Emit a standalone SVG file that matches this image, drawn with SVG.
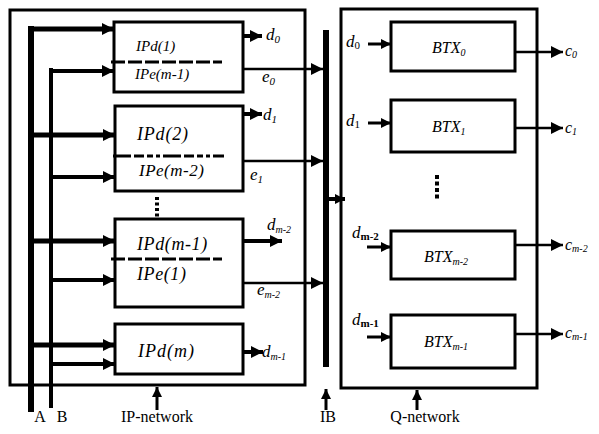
<svg xmlns="http://www.w3.org/2000/svg" width="599" height="434" viewBox="0 0 599 434">
<style>
.frame{fill:none;stroke:#000;stroke-width:3}
.box{fill:#fff;stroke:#000;stroke-width:3}
.t{font-style:italic;fill:#000}
.n{fill:#000}
.ln{stroke:#000;fill:none}
.dash{stroke:#000;stroke-width:3;stroke-dasharray:14 3}
</style>
<defs>
<marker id="ah" markerUnits="userSpaceOnUse" markerWidth="12" markerHeight="12" refX="12" refY="6" orient="auto">
<path d="M0,0 L12,6 L0,12 z" fill="#000"/>
</marker>
<marker id="ahs" markerUnits="userSpaceOnUse" markerWidth="10" markerHeight="10" refX="10" refY="5" orient="auto">
<path d="M0,0 L10,5 L0,10 z" fill="#000"/>
</marker>
</defs>
<rect width="599" height="434" fill="#fff"/>

<g id="ip-network">
<rect class="frame" x="10" y="10" width="295" height="375"/>
</g>
<g id="q-network">
<rect class="frame" x="341" y="9" width="196" height="379"/>
</g>

<g id="connectors">
<line class="ln" x1="31" y1="26" x2="31" y2="412" stroke-width="6"/>
<line class="ln" x1="51" y1="68" x2="51" y2="408" stroke-width="4"/>
<g stroke-width="5" class="ln" marker-end="url(#ah)">
<line x1="28" y1="29" x2="114" y2="29"/>
<line x1="31" y1="135" x2="115" y2="135"/>
<line x1="31" y1="241" x2="115" y2="241"/>
<line x1="31" y1="345" x2="115" y2="345"/>
</g>
<g stroke-width="4" class="ln" marker-end="url(#ah)">
<line x1="49" y1="71" x2="114" y2="71"/>
<line x1="51" y1="177" x2="115" y2="177"/>
<line x1="51" y1="280" x2="115" y2="280"/>
<line x1="51" y1="364" x2="115" y2="364"/>
</g>
<g stroke-width="4" class="ln" marker-end="url(#ah)">
<line x1="243" y1="36" x2="262" y2="36"/>
<line x1="237" y1="114" x2="262" y2="114"/>
<line x1="243" y1="241" x2="282" y2="241"/>
<line x1="243" y1="352" x2="263" y2="352"/>
</g>
<g stroke-width="2.5" class="ln" marker-end="url(#ah)">
<line x1="243" y1="69" x2="323" y2="69"/>
<line x1="243" y1="161" x2="323" y2="161"/>
<line x1="243" y1="283" x2="323" y2="283"/>
</g>
<line class="ln" x1="326" y1="30" x2="326" y2="367" stroke-width="6"/>
<line class="ln" x1="329" y1="199" x2="345" y2="199" stroke-width="4" marker-end="url(#ahs)"/>
<g stroke-width="3" class="ln" marker-end="url(#ahs)">
<line x1="368" y1="44" x2="391" y2="44"/>
<line x1="368" y1="123" x2="391" y2="123"/>
<line x1="367" y1="247" x2="391" y2="247"/>
<line x1="367" y1="337" x2="391" y2="337"/>
</g>
<g stroke-width="2.5" class="ln" marker-end="url(#ah)">
<line x1="515" y1="52" x2="563" y2="52"/>
<line x1="515" y1="128" x2="563" y2="128"/>
<line x1="515" y1="245" x2="563" y2="245"/>
<line x1="515" y1="334" x2="563" y2="334"/>
</g>
<g stroke-width="3" class="ln" marker-end="url(#ahs)">
<line x1="157" y1="410" x2="157" y2="387"/>
<line x1="326" y1="410" x2="326" y2="389"/>
<line x1="417" y1="410" x2="417" y2="390"/>
</g>
<line class="ln" x1="157" y1="197" x2="157" y2="217" stroke-width="4" stroke-dasharray="3 2.5"/>
<line class="ln" x1="437" y1="175" x2="437" y2="199" stroke-width="4" stroke-dasharray="4 2.5"/>
</g>

<g font-family="Liberation Serif, DejaVu Serif, Times New Roman, serif">
<g id="ipd1">
<rect class="box" x="114" y="22" width="129" height="70"/>
<line class="dash" x1="111" y1="62" x2="222" y2="62"/>
<text class="t" x="136" y="51" font-size="15">IPd(1)</text>
<text class="t" x="135" y="79" font-size="15">IPe(m-1)</text>
</g>
<g id="ipd2">
<rect class="box" x="115" y="106" width="128" height="85"/>
<line class="ln" x1="113" y1="156" x2="224" y2="156" stroke-width="3" stroke-dasharray="18 3 10 3 6 3 4 3"/>
<text class="t" x="137" y="140" font-size="18" letter-spacing="0.8">IPd(2)</text>
<text class="t" x="139" y="176" font-size="17" letter-spacing="0.5">IPe(m-2)</text>
</g>
<g id="ipd3">
<rect class="box" x="115" y="219" width="128" height="88"/>
<line class="dash" x1="111" y1="259" x2="222" y2="259"/>
<text class="t" x="137" y="250" font-size="18" letter-spacing="0.6">IPd(m-1)</text>
<text class="t" x="137" y="280" font-size="18" letter-spacing="0.6">IPe(1)</text>
</g>
<g id="ipd4">
<rect class="box" x="115" y="324" width="128" height="50"/>
<text class="t" x="138" y="357" font-size="18" letter-spacing="1">IPd(m)</text>
</g>

<g id="btx0">
<rect class="box" x="391" y="22" width="124" height="49"/>
<text class="t" x="432" y="53" font-size="16">BTX<tspan font-size="10" dy="3">0</tspan></text>
</g>
<g id="btx1">
<rect class="box" x="391" y="100" width="124" height="52"/>
<text class="t" x="432" y="132" font-size="16">BTX<tspan font-size="10" dy="3">1</tspan></text>
</g>
<g id="btxm2">
<rect class="box" x="391" y="231" width="124" height="48"/>
<text class="t" x="424" y="262" font-size="16">BTX<tspan font-size="10" dy="3">m-2</tspan></text>
</g>
<g id="btxm1">
<rect class="box" x="391" y="315" width="124" height="53"/>
<text class="t" x="424" y="347" font-size="16">BTX<tspan font-size="10" dy="3">m-1</tspan></text>
</g>

<g id="labels">
<text class="t" x="266" y="40" font-size="17">d<tspan font-size="11" dy="3">0</tspan></text>
<text class="t" x="262" y="82" font-size="17">e<tspan font-size="11" dy="3">0</tspan></text>
<text class="t" x="263" y="120" font-size="17">d<tspan font-size="11" dy="3">1</tspan></text>
<text class="t" x="250" y="180" font-size="17">e<tspan font-size="11" dy="3">1</tspan></text>
<text class="t" x="267" y="230" font-size="17">d<tspan font-size="10" dy="3">m-2</tspan></text>
<text class="t" x="257" y="295" font-size="17">e<tspan font-size="10" dy="3">m-2</tspan></text>
<text class="t" x="262" y="357" font-size="17">d<tspan font-size="10" dy="3">m-1</tspan></text>

<text class="t" x="346" y="47" font-size="17">d<tspan font-style="normal" font-size="11" dy="2">0</tspan></text>
<text class="t" x="346" y="126" font-size="17">d<tspan font-style="normal" font-size="11" dy="2">1</tspan></text>
<text class="t" x="352" y="238" font-size="17">d<tspan font-style="normal" font-weight="bold" font-size="11" dy="2">m-2</tspan></text>
<text class="t" x="352" y="325" font-size="17">d<tspan font-style="normal" font-weight="bold" font-size="11" dy="2">m-1</tspan></text>

<text class="t" x="565" y="56" font-size="16">c<tspan font-size="10" dy="2">0</tspan></text>
<text class="t" x="565" y="133" font-size="16">c<tspan font-size="10" dy="2">1</tspan></text>
<text class="t" x="565" y="250" font-size="16">c<tspan font-size="10" dy="2">m-2</tspan></text>
<text class="t" x="565" y="338" font-size="16">c<tspan font-size="10" dy="2">m-1</tspan></text>

<text class="n" x="40" y="422" font-size="16" text-anchor="middle">A</text>
<text class="n" x="62" y="422" font-size="16" text-anchor="middle">B</text>
<text class="n" x="157" y="422" font-size="16" text-anchor="middle">IP-network</text>
<text class="n" x="328" y="422" font-size="16" text-anchor="middle">IB</text>
<text class="n" x="425" y="422" font-size="16" text-anchor="middle">Q-network</text>
</g>
</g>
</svg>
